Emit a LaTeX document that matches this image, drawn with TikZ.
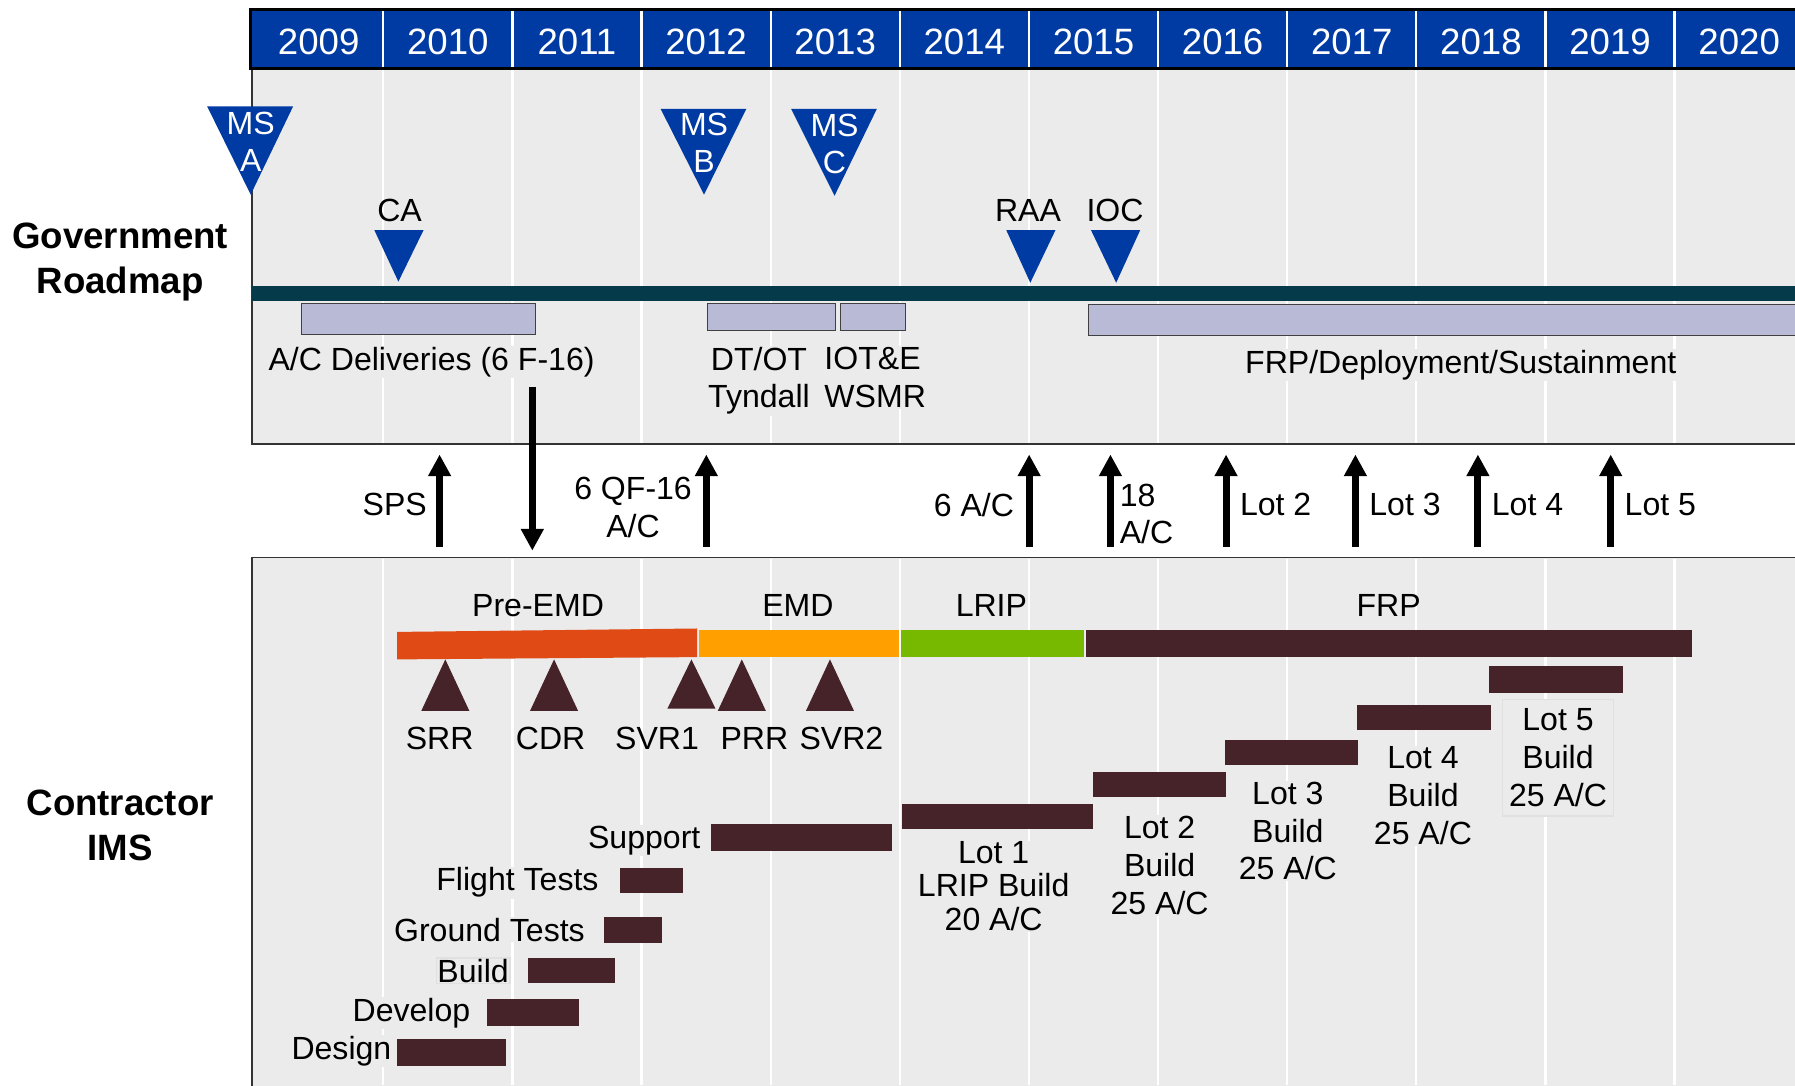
\documentclass[tikz,border=0pt]{standalone}
\usepackage{fontspec}
\setmainfont{Liberation Sans}
\usetikzlibrary{arrows.meta}
\definecolor{hdr}{RGB}{0,58,163}
\definecolor{panel}{RGB}{235,235,235}
\definecolor{roadc}{RGB}{5,58,74}
\definecolor{lav}{RGB}{185,186,214}
\definecolor{mrn}{RGB}{70,35,40}
\definecolor{preemdc}{RGB}{224,74,20}
\definecolor{emdc}{RGB}{255,160,0}
\definecolor{lripc}{RGB}{118,185,0}
\tikzset{
  lbl/.style={font=\fontsize{28}{33}\selectfont, inner sep=1pt, align=center},
  lblbg/.style={lbl, fill=panel},
  yearlbl/.style={font=\fontsize{32}{36}\selectfont, text=white, inner sep=0pt},
  mslbl/.style={font=\fontsize{28}{32}\selectfont, text=white, inner sep=0pt, align=center},
  boldlbl/.style={font=\bfseries\fontsize{32}{39}\selectfont, inner sep=0pt, align=center},
  bigarrow/.style={line width=6pt, -{Triangle[width=19pt,length=19pt]}},
  lavbar/.style={fill=lav, draw=black!75, line width=1pt},
  taskbar/.style={fill=mrn},
  sepline/.style={white, line width=2pt}
}
\begin{document}
\begin{tikzpicture}[x=1pt,y=-1pt]
\useasboundingbox (0,0) rectangle (1568,948);
\clip (0,0) rectangle (1568,948);
\fill[white] (0,0) rectangle (1568,948);
% panels
\draw[fill=panel, draw=black!80, line width=1.2pt] (220,60) rectangle (1590,388);
\draw[fill=panel, draw=black!80, line width=1.2pt] (220,487) rectangle (1590,970);
\foreach \i in {1,...,11} {
  \draw[sepline] ({222+112.8*\i},61) -- ({222+112.8*\i},387);
  \draw[sepline] ({222+112.8*\i},488) -- ({222+112.8*\i},948);
}
% header
\draw[fill=hdr, draw=black, line width=2.5pt] (219,8) rectangle (1590,60);
\foreach \i in {1,...,11} {
  \draw[sepline] ({222+112.8*\i},9.5) -- ({222+112.8*\i},58.5);
}
\foreach \y [count=\i from 0] in {2009,2010,2011,2012,2013,2014,2015,2016,2017,2018,2019,2020} {
  \node[yearlbl] (y\y) at ({222+112.8*(\i+0.5)},37) {\y};
}
% roadmap bar
\fill[roadc] (220,250) rectangle (1590,263);
% milestone triangles (gov)
\fill[hdr] (181,93) -- (256,93) -- (219,170) -- cycle;
\node[mslbl] (msa) at (219,124) {MS\\A};
\fill[hdr] (577,95) -- (652,95) -- (615,170) -- cycle;
\node[mslbl] (msb) at (615,125) {MS\\B};
\fill[hdr] (691,95) -- (766,95) -- (729,171) -- cycle;
\node[mslbl] (msc) at (729,126) {MS\\C};
\fill[hdr] (327,201) -- (370,201) -- (348,246) -- cycle;
\node[lbl] (ca) at (349,184) {CA};
\fill[hdr] (879,201) -- (922,201) -- (900,247) -- cycle;
\node[lbl] (raa) at (898,184) {RAA};
\fill[hdr] (953,201) -- (996,201) -- (975,247) -- cycle;
\node[lbl] (ioc) at (974,184) {IOC};
% lavender bars
\draw[lavbar] (263,265) rectangle (468,292);
\draw[lavbar] (618,265) rectangle (730,289);
\draw[lavbar] (734,265) rectangle (791,289);
\draw[lavbar] (951,266) rectangle (1590,293);
\node[lblbg] (acdel) at (377,316) {A/C Deliveries (6 F-16)};
\node[lblbg] (dtot) at (663,332.5) {DT/OT\\Tyndall};
\node[lblbg, align=left, anchor=west] (iote) at (719,329.5) {IOT\&E\\WSMR};
\node[lblbg] (frpdep) at (1276,319) {FRP/Deployment/Sustainment};
% side labels
\node[boldlbl] (gov) at (105,229) {Government\\Roadmap};
\node[boldlbl] (con) at (105,721) {Contractor\\IMS};
% arrows between panels
\coordinate (spsS) at (384,478); \coordinate (spsE) at (384,397);
\draw[bigarrow] (spsS) -- (spsE);
\node[lbl, anchor=east] (sps) at (374,441) {SPS};
\coordinate (dnS) at (465,338); \coordinate (dnE) at (465,481);
\draw[bigarrow] (dnS) -- (dnE);
\coordinate (qfS) at (617,478); \coordinate (qfE) at (617,397);
\draw[bigarrow] (qfS) -- (qfE);
\node[lbl] (qf) at (553,443) {6 QF-16\\A/C};
\coordinate (sixS) at (899,478); \coordinate (sixE) at (899,397);
\draw[bigarrow] (sixS) -- (sixE);
\node[lbl, anchor=east] (six) at (887,441) {6 A/C};
\coordinate (eiS) at (970,478); \coordinate (eiE) at (970,397);
\draw[bigarrow] (eiS) -- (eiE);
\node[lbl, anchor=west, align=left] (ei) at (977,449) {18\\A/C};
\foreach \x/\n in {1071/2,1184/3,1291/4,1407/5} {
  \coordinate (lotS\n) at (\x,478); \coordinate (lotE\n) at (\x,397);
  \draw[bigarrow] (lotS\n) -- (lotE\n);
  \node[lbl, anchor=west] (lotl\n) at (\x+11,441) {Lot \n};
}
% phases
\node[lbl] (preemd) at (470,529) {Pre-EMD};
\node[lbl] (emd) at (697,529) {EMD};
\node[lbl] (lrip) at (866,529) {LRIP};
\node[lbl] (frp) at (1213,529) {FRP};
\fill[preemdc] (347,552) -- (609,549) -- (609,574) -- (347,576) -- cycle;
\fill[emdc] (611,550) rectangle (785,574);
\fill[lripc] (787,550) rectangle (947,574);
\fill[mrn] (949,550) rectangle (1478,574);
% contractor milestones
\foreach \x/\b in {389/621,484/621,604/619,648/621,725/621} {
  \fill[mrn] (\x-21,\b) -- (\x+21,\b) -- (\x,576) -- cycle;
}
\node[lbl] (srr) at (384,645) {SRR};
\node[lbl] (cdr) at (481,645) {CDR};
\node[lbl] (svr1) at (574,645) {SVR1};
\node[lbl] (prr) at (659,645) {PRR};
\node[lbl] (svr2) at (735,645) {SVR2};
% tasks
\node[lblbg, anchor=east] (support) at (613,734) {Support};
\fill[mrn] (621,720) rectangle (779,743);
\node[lblbg, anchor=east] (flight) at (524,771) {Flight Tests};
\fill[mrn] (542,758) rectangle (597,780);
\node[lblbg, anchor=east] (ground) at (512,812) {Ground Tests};
\fill[mrn] (528,801) rectangle (578,824);
\node[lblbg, anchor=east, draw=black!12, line width=1.2pt] (build) at (446,848) {Build};
\fill[mrn] (461,837) rectangle (537,859);
\node[lblbg, anchor=east] (develop) at (412,885) {Develop};
\fill[mrn] (425,873) rectangle (506,896);
\node[lblbg, anchor=east] (design) at (343,918) {Design};
\fill[mrn] (347,908) rectangle (442,931);
% lots
\fill[mrn] (788,702) rectangle (955,724);
\node[lblbg, font=\fontsize{28}{29}\selectfont] (lot1) at (868,774) {Lot 1\\LRIP Build\\20 A/C};
\fill[mrn] (955,674) rectangle (1071,696);
\node[lblbg] (lot2) at (1013,756) {Lot 2\\Build\\25 A/C};
\fill[mrn] (1070,646) rectangle (1186,668);
\node[lblbg] (lot3) at (1125,726) {Lot 3\\Build\\25 A/C};
\fill[mrn] (1185,616) rectangle (1302,638);
\node[lblbg] (lot4) at (1243,695) {Lot 4\\Build\\25 A/C};
\fill[mrn] (1301,582) rectangle (1418,605);
\node[lblbg, draw=black!12, line width=1.5pt, minimum width=97pt, minimum height=102pt] (lot5) at (1361,662) {Lot 5\\Build\\25 A/C};
\end{tikzpicture}
\end{document}
